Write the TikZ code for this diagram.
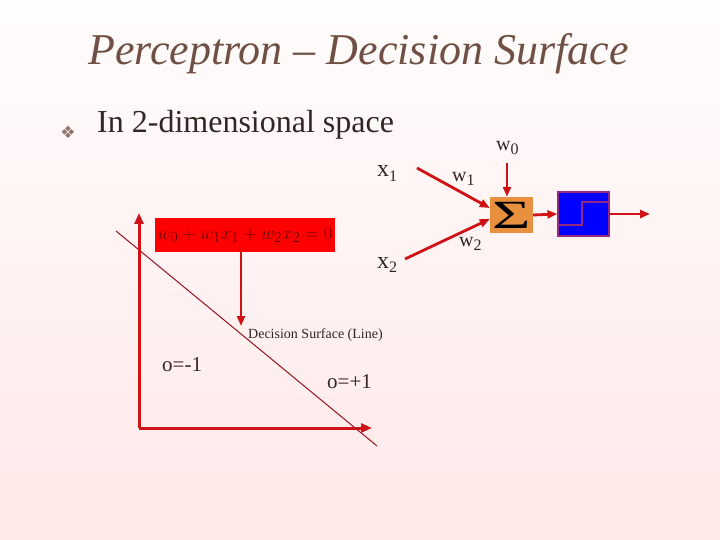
\documentclass[tikz,border=0pt]{standalone}
\usepackage{fontspec}
\setmainfont{Liberation Serif}
\newfontfamily\symfont{DejaVu Sans}
\usepackage{graphicx}
\usetikzlibrary{arrows.meta,positioning,calc}
\definecolor{slidebrown}{RGB}{112,80,68}
\definecolor{slidetext}{RGB}{50,38,36}
\definecolor{arrowred}{RGB}{206,18,22}
\definecolor{linered}{RGB}{150,20,30}
\definecolor{eqred}{RGB}{255,0,0}
\definecolor{eqtext}{RGB}{110,0,0}
\definecolor{sumorange}{RGB}{232,144,62}
\definecolor{stepblue}{RGB}{0,0,255}
\definecolor{steppurple}{RGB}{150,40,130}
\newcommand{\lowsub}[2]{\raisebox{-#1}{\fontsize{16}{16}\selectfont #2}}

\begin{document}
\begin{tikzpicture}[x=1pt, y=-1pt,
    lbl/.style={anchor=base west, inner sep=0pt, text=slidetext},
    wire/.style={draw=arrowred, line width=2.8pt, -{Triangle[length=10pt,width=8pt]}},
    axis/.style={draw=arrowred, line width=3pt, -{Triangle[length=11pt,width=9pt]}},
    sumbox/.style={fill=sumorange, minimum width=43pt, minimum height=36pt, inner sep=0pt},
    stepbox/.style={fill=stepblue, draw=steppurple, line width=1.2pt, minimum width=51pt, minimum height=44pt, inner sep=0pt}
  ]
  % background
  \fill[top color=red!1!white, bottom color=red!9!white] (0,0) rectangle (720,540);
  \useasboundingbox (0,0) rectangle (720,540);

  % title and bullet
  \node[lbl, text=slidebrown, font=\fontsize{44}{48}\selectfont\itshape] (title) at (88,65) {Perceptron -- Decision Surface};
  \node[inner sep=0pt, text=slidebrown!80, font=\symfont\fontsize{17}{18}\selectfont] (bullet) at (68,132) {❖};
  \node[lbl, font=\fontsize{32}{36}\selectfont] (item) at (97,133) {In 2-dimensional space};

  % perceptron
  \node[sumbox] (sum) at (511.5,215) {\scalebox{1.65}[1]{\fontsize{40}{40}\selectfont Σ}};
  \node[stepbox] (act) at (583.5,214) {};
  \draw[steppurple, line width=1.2pt] (558,225) -- (582,225) -- (582,202) -- (609,202);

  \node[lbl, font=\fontsize{24}{26}\selectfont] (x1) at (377,177) {x\lowsub{5pt}{1}};
  \node[lbl, font=\fontsize{24}{26}\selectfont] (x2) at (377,268) {x\lowsub{5pt}{2}};
  \node[lbl, font=\fontsize{20}{22}\selectfont] (w0) at (496,151) {w\lowsub{4pt}{0}};
  \node[lbl, font=\fontsize{20}{22}\selectfont] (w1) at (452,182) {w\lowsub{4pt}{1}};
  \node[lbl, font=\fontsize{20}{22}\selectfont] (w2) at (459,246) {w\lowsub{4pt}{2}};

  \coordinate (in1) at (417,168);
  \coordinate (in2) at (405,259);
  \coordinate (bias) at (507,163);
  \coordinate (out) at (650,214);

  \draw[wire] (in1) -- ([yshift=7pt]sum.west);
  \draw[wire] (in2) -- ([yshift=-4pt]sum.west);
  \draw[wire] (bias) -- (bias |- sum.north);
  \draw[wire] (sum.east) -- (act.west);
  \draw[wire] (act.east) -- (out);

  % decision surface plot
  \coordinate (origin) at (139,428);
  \coordinate (ytip) at (139,213);
  \coordinate (xtip) at (372,428);
  \coordinate (dtop) at (116,231);
  \coordinate (dbot) at (377,446);
  \draw[linered, line width=1pt] (dtop) -- (dbot);
  \draw[axis] (origin) -- (ytip);
  \draw[axis] (origin) -- (xtip);

  \node[fill=eqred, text=eqtext, minimum width=180pt, minimum height=34pt, inner sep=0pt, font=\fontsize{19}{22}\selectfont] (eq) at (245,235) {\scalebox{1.07}{$w_0 + w_1x_1 + w_2x_2 = 0$}};
  \coordinate (eqtip) at (241,326);
  \draw[wire, line width=2.4pt] (eq.south -| eqtip) -- (eqtip);

  \node[lbl, font=\fontsize{14}{16}\selectfont] (surf) at (248,338) {Decision Surface (Line)};
  \node[lbl, font=\fontsize{21}{24}\selectfont] (neg) at (162,371) {o=-1};
  \node[lbl, font=\fontsize{21}{24}\selectfont] (pos) at (327,388) {o=+1};
\end{tikzpicture}
\end{document}
